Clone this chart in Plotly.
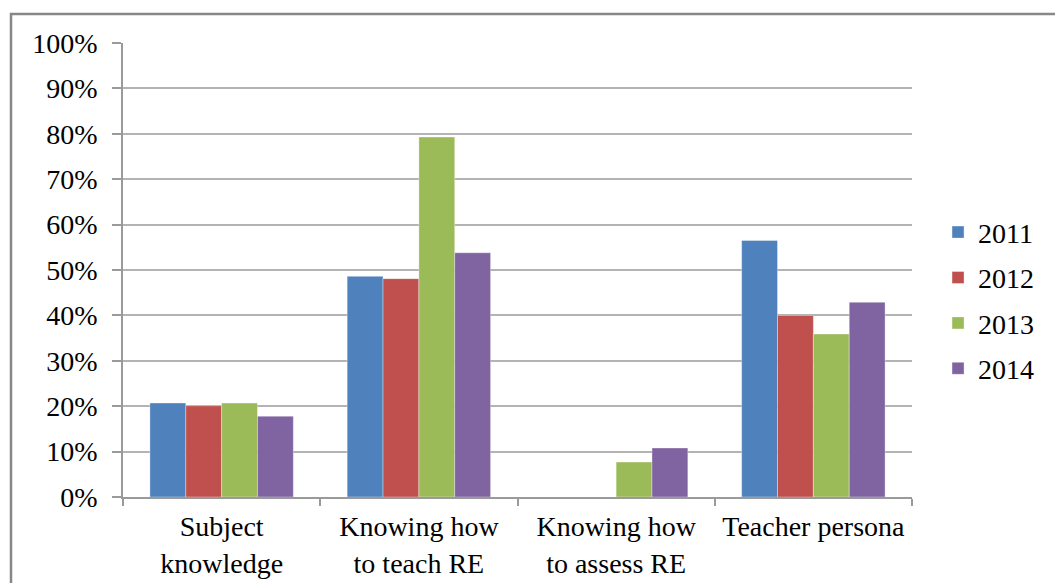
import plotly.graph_objects as go

# Share of respondents naming each area, by survey year
categories = ["Subject<br>knowledge", "Knowing how<br>to teach RE",
              "Knowing how<br>to assess RE", "Teacher persona"]
years = ["2011", "2012", "2013", "2014"]
values_2011 = [20.7, 48.6, 0, 56.5]
values_2012 = [20.1, 48.1, 0, 40.0]
values_2013 = [20.7, 79.3, 7.7, 35.9]
values_2014 = [17.8, 53.8, 10.8, 42.9]
y_ticks = [0, 10, 20, 30, 40, 50, 60, 70, 80, 90, 100]
y_tick_labels = [f"{t}%" for t in y_ticks]

series = [values_2011, values_2012, values_2013, values_2014]
colors = ["#4F81BD", "#C0504D", "#9BBB59", "#8064A2"]

FONT = "Liberation Serif, Times New Roman, serif"
FS = 28

fig = go.Figure()
for year, vals, col in zip(years, series, colors):
    fig.add_trace(go.Bar(
        x=categories, y=vals, name=year,
        marker=dict(color=col, line=dict(color="rgba(255,255,255,0.35)", width=1)),
        legendgroup=year,
    ))

fig.update_layout(
    width=1055, height=583,
    margin=dict(l=123, r=143, t=43, b=86),
    paper_bgcolor="white", plot_bgcolor="white",
    barmode="group", bargap=0.273, bargroupgap=0,
    font=dict(family=FONT, size=FS, color="black"),
    showlegend=True,
    legend=dict(
        x=1.033, y=0.433, xanchor="left", yanchor="middle",
        traceorder="grouped", tracegroupgap=6,
        font=dict(family=FONT, size=FS, color="black"),
        itemclick=False, itemdoubleclick=False,
    ),
    xaxis=dict(
        automargin=False,
        showgrid=False, showline=True, linecolor="#9a9a9a", linewidth=1.5,
        ticks="outside", tickson="boundaries", ticklen=7, tickcolor="#9a9a9a",
        tickwidth=1.5, ticklabelstandoff=4,
        tickfont=dict(family=FONT, size=FS, color="black"),
    ),
    yaxis=dict(
        automargin=False,
        range=[0, 100], tickvals=y_ticks, ticktext=y_tick_labels,
        showgrid=True, gridcolor="#b3b3b3", gridwidth=1.5,
        showline=True, linecolor="#9a9a9a", linewidth=1.5,
        ticks="outside", ticklen=9, tickcolor="#9a9a9a", tickwidth=1.5,
        ticklabelstandoff=9,
        tickfont=dict(family=FONT, size=FS, color="black"),
        zeroline=False,
    ),
    shapes=[dict(
        type="rect", xref="paper", yref="paper",
        x0=(11 - 123) / 789, x1=1.3, y0=-0.4, y1=(497 - 14) / 454,
        line=dict(color="#878787", width=2.5), fillcolor="rgba(0,0,0,0)",
        layer="above",
    )],
)

fig.write_html("out.html")
